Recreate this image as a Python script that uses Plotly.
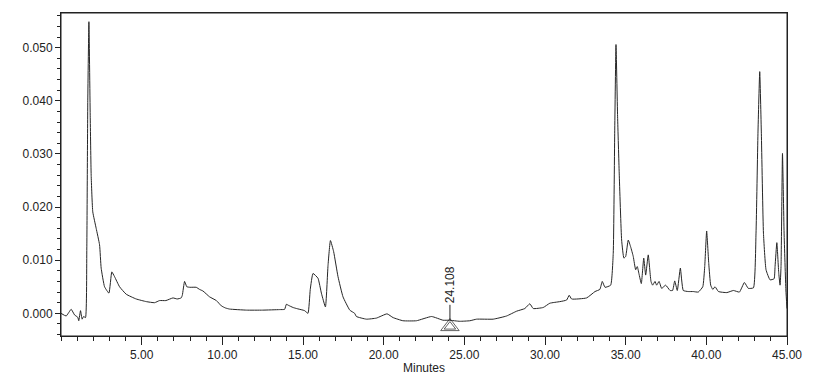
import plotly.graph_objects as go

# Retention time (minutes) and detector response (AU)
time_min = [
    0.00, 0.32, 0.63, 0.84, 1.04, 1.10, 1.21, 1.31, 1.40, 1.52,
    1.60, 1.66, 1.73, 1.81, 1.87, 1.97, 2.18, 2.39, 2.49, 2.70,
    2.97, 3.15, 3.32, 3.63, 4.04, 4.66, 5.29, 5.80, 6.11, 6.50,
    6.94, 7.20, 7.45, 7.52, 7.66, 7.80, 8.00, 8.38, 8.59, 8.80,
    9.21, 9.63, 9.94, 10.20, 10.45, 11.50, 12.50, 13.55, 13.86, 13.97,
    14.10, 14.38, 14.60, 15.00, 15.10, 15.31, 15.45, 15.62, 15.93, 16.14,
    16.39, 16.55, 16.70, 16.90, 17.17, 17.48, 17.90, 18.20, 18.31, 18.93,
    19.55, 20.21, 20.58, 21.20, 22.03, 22.97, 23.68, 24.06, 24.72, 25.34,
    25.76, 26.79, 27.62, 28.24, 28.75, 29.06, 29.27, 29.89, 30.30, 30.92,
    31.34, 31.50, 31.65, 32.58, 33.10, 33.40, 33.55, 33.72, 34.07, 34.23,
    34.32, 34.40, 34.50, 34.60, 34.75, 34.89, 35.00, 35.16, 35.31, 35.47,
    35.62, 35.72, 35.82, 35.97, 36.12, 36.24, 36.40, 36.57, 36.67, 36.82,
    36.92, 37.07, 37.23, 37.48, 37.75, 37.91, 38.04, 38.20, 38.39, 38.57,
    38.88, 39.19, 39.50, 39.78, 39.90, 40.02, 40.15, 40.27, 40.40, 40.54,
    40.75, 41.27, 41.68, 42.05, 42.36, 42.60, 42.92, 43.08, 43.20, 43.31,
    43.41, 43.54, 43.70, 43.95, 44.20, 44.26, 44.37, 44.49, 44.57, 44.63,
    44.72, 44.82, 44.93, 45.00,
]
absorbance = [
    0.0000, -0.0005, 0.00075, -0.0003, -0.00075, -0.0014, 0.0005, -0.0011, -0.0006, -0.0008,
    0.0123, 0.0400, 0.0549, 0.0373, 0.0260, 0.0191, 0.0160, 0.0129, 0.0085, 0.0050,
    0.0038, 0.0078, 0.0069, 0.0050, 0.0036, 0.0027, 0.0022, 0.0020, 0.0024, 0.0024,
    0.0029, 0.0027, 0.0029, 0.0034, 0.0060, 0.0050, 0.0049, 0.0049, 0.0045, 0.0042,
    0.0031, 0.0024, 0.0014, 0.0010, 0.0008, 0.0006, 0.0006, 0.0007, 0.00075, 0.0017,
    0.0015, 0.0011, 0.0009, 0.0006, 0.0005, 0.0000, 0.0045, 0.0075, 0.0066, 0.0038,
    0.0012, 0.0090, 0.0137, 0.0116, 0.0069, 0.0031, 0.0006, 0.0000, -0.0006, -0.0011,
    -0.0009, -0.0001, -0.0008, -0.0014, -0.0014, -0.0006, -0.0013, -0.0013, -0.0015, -0.0014,
    -0.0011, -0.0011, -0.0005, 0.0004, 0.0009, 0.0018, 0.0009, 0.0011, 0.0019, 0.0022,
    0.0025, 0.0034, 0.0027, 0.0029, 0.0041, 0.0045, 0.0060, 0.0049, 0.0053, 0.0113,
    0.0339, 0.0506, 0.0370, 0.0264, 0.0138, 0.0104, 0.0107, 0.0138, 0.0125, 0.0107,
    0.0082, 0.0088, 0.0075, 0.0056, 0.0104, 0.0072, 0.0110, 0.0060, 0.0053, 0.0060,
    0.0053, 0.0060, 0.0047, 0.0053, 0.0043, 0.0043, 0.0061, 0.0043, 0.0085, 0.0043,
    0.0041, 0.0041, 0.0040, 0.0050, 0.0088, 0.0155, 0.0094, 0.0053, 0.0045, 0.0050,
    0.0041, 0.0039, 0.0043, 0.0040, 0.0058, 0.0047, 0.0048, 0.0151, 0.0339, 0.0455,
    0.0339, 0.0151, 0.0082, 0.0063, 0.0065, 0.0088, 0.0133, 0.0075, 0.0053, 0.0088,
    0.0301, 0.0151, 0.0044, 0.0009,
]

# Labelled peak
peak_time = 24.108
peak_label = "24.108"
peak_base = -0.0013
stem_top = 0.0016
marker_level = -0.0025

x_ticks = [5, 10, 15, 20, 25, 30, 35, 40, 45]
y_ticks = [0.0, 0.01, 0.02, 0.03, 0.04, 0.05]

font = dict(family="Liberation Sans, Arial, sans-serif", size=12, color="#222222")

fig = go.Figure()
fig.add_trace(go.Scatter(
    x=time_min, y=absorbance, mode="lines",
    line=dict(color="#262626", width=1, shape="spline", smoothing=0.4),
    hoverinfo="skip", showlegend=False,
))
# stem of the peak label
fig.add_trace(go.Scatter(
    x=[peak_time, peak_time], y=[peak_base, stem_top], mode="lines",
    line=dict(color="#222222", width=1), hoverinfo="skip", showlegend=False,
))
# double triangle marker
fig.add_trace(go.Scatter(
    x=[peak_time, peak_time], y=[marker_level, marker_level], mode="markers",
    marker=dict(symbol="triangle-up-open", size=[16, 10], color="#222222",
                line=dict(width=1, color="#222222")),
    hoverinfo="skip", showlegend=False,
))
fig.add_annotation(
    x=peak_time, y=stem_top, xref="x", yref="y", text=peak_label,
    showarrow=False, textangle=-90, xanchor="center", yanchor="bottom",
    font=dict(family="Liberation Sans, Arial, sans-serif", size=12, color="#222222"),
)
# plot frame
fig.add_shape(type="rect", xref="paper", yref="paper", x0=0, x1=1, y0=0, y1=1,
              line=dict(color="#222222", width=1), fillcolor="rgba(0,0,0,0)", layer="above")

# the page adds an 8px body margin, so the figure is offset by (8, 8)
fig.update_layout(
    width=817, height=380,
    margin=dict(l=53, r=38, t=5, b=52, autoexpand=False),
    paper_bgcolor="white", plot_bgcolor="white",
    font=font,
    showlegend=False,
)
fig.update_xaxes(
    range=[0, 45], tickvals=x_ticks, ticktext=[f"{v:.2f}" for v in x_ticks],
    ticks="outside", ticklen=8, tickwidth=1, tickcolor="#222222",
    minor=dict(dtick=1, tick0=0, ticks="outside", ticklen=4, tickwidth=1, tickcolor="#222222"),
    showline=True, linecolor="#222222", linewidth=1, mirror=True,
    showgrid=False, zeroline=False, automargin=False,
    title=dict(text="Minutes", standoff=2, font=font),
)
fig.update_yaxes(
    range=[-0.00427, 0.05654], tickvals=y_ticks, ticktext=[f"{v:.3f}" for v in y_ticks],
    ticks="outside", ticklen=5, tickwidth=1, tickcolor="#222222",
    minor=dict(dtick=0.002, tick0=0, ticks="outside", ticklen=3, tickwidth=1, tickcolor="#222222"),
    showline=True, linecolor="#222222", linewidth=1, mirror=True,
    showgrid=False, zeroline=False, automargin=False,
)

fig.write_html("out.html")
